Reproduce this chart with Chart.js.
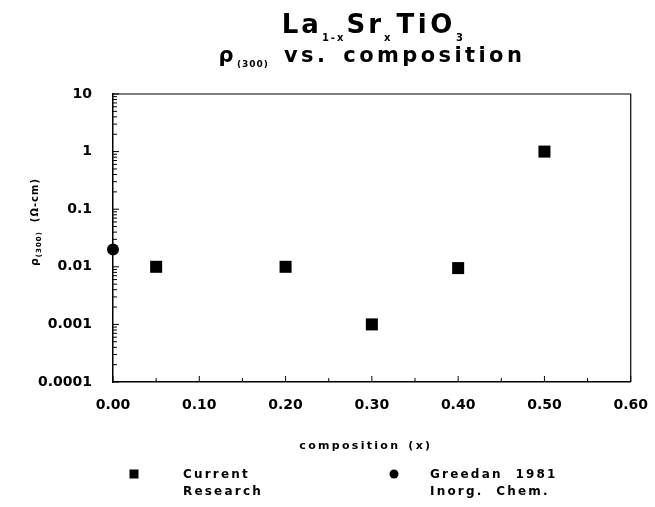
<!DOCTYPE html>
<html>
<head>
<meta charset="utf-8">
<script src="https://cdn.jsdelivr.net/npm/chart.js@4.4.0/dist/chart.umd.min.js"></script>
<style>
  html, body { margin: 0; padding: 0; background: #fff; }
  canvas { display: block; }
</style>
</head>
<body>
<canvas id="myChart" width="655" height="507"></canvas>
<script>
// data
const currentX = [0.05, 0.20, 0.30, 0.40, 0.50]
const currentY = [0.01, 0.01, 0.001, 0.0095, 1]
const greedanX = [0.00]
const greedanY = [0.02]

const xTicks = [0, 0.1, 0.2, 0.3, 0.4, 0.5, 0.6]
const xTickLabels = ['0.00', '0.10', '0.20', '0.30', '0.40', '0.50', '0.60']
const xMinorTicks = [0.05, 0.15, 0.25, 0.35, 0.45, 0.55]
const yTicks = [0.0001, 0.001, 0.01, 0.1, 1, 10]
const yTickLabels = ['0.0001', '0.001', '0.01', '0.1', '1', '10']
const yMinorSteps = [2, 3, 4, 5, 6, 7, 8, 9]

const FONT = '"DejaVu Sans", sans-serif'

// draws a line of text made of pieces (for the subscripts), centred on cx
function drawRich(ctx, segs, cx, base, spacing) {
    let w = 0
    segs.forEach(s => {
        ctx.font = 'bold ' + s.size + 'px ' + FONT
        ctx.letterSpacing = (s.sp !== undefined ? s.sp : spacing) + 'px'
        s.w = ctx.measureText(s.t).width
        w += s.w + (s.gap || 0)
    })
    let x = cx - w / 2
    ctx.textAlign = 'left'
    ctx.textBaseline = 'alphabetic'
    segs.forEach(s => {
        ctx.font = 'bold ' + s.size + 'px ' + FONT
        ctx.letterSpacing = (s.sp !== undefined ? s.sp : spacing) + 'px'
        ctx.fillText(s.t, x, base + (s.dy || 0))
        x += s.w + (s.gap || 0)
    })
    ctx.letterSpacing = '0px'
}

const decorPlugin = {
    id: 'decor',
    afterDraw(chart) {
        const ctx = chart.ctx
        const area = chart.chartArea
        const xs = chart.scales.x
        const ys = chart.scales.y
        ctx.save()
        ctx.fillStyle = '#000'
        ctx.strokeStyle = '#000'

        // top and right frame
        ctx.lineWidth = 1.2
        ctx.beginPath()
        ctx.moveTo(area.left, area.top)
        ctx.lineTo(area.right, area.top)
        ctx.lineTo(area.right, area.bottom)
        ctx.stroke()

        // inward tick marks
        ctx.lineWidth = 1
        ctx.beginPath()
        xTicks.forEach(v => {
            const px = xs.getPixelForValue(v)
            ctx.moveTo(px, area.bottom)
            ctx.lineTo(px, area.bottom - 6)
        })
        xMinorTicks.forEach(v => {
            const px = xs.getPixelForValue(v)
            ctx.moveTo(px, area.bottom)
            ctx.lineTo(px, area.bottom - 4)
        })
        yTicks.forEach((v, i) => {
            const py = ys.getPixelForValue(v)
            ctx.moveTo(area.left, py)
            ctx.lineTo(area.left + 6, py)
            if (i < yTicks.length - 1) {
                yMinorSteps.forEach(m => {
                    const pm = ys.getPixelForValue(v * m)
                    ctx.moveTo(area.left, pm)
                    ctx.lineTo(area.left + 4, pm)
                })
            }
        })
        ctx.stroke()

        // title
        const cx = (area.left + area.right) / 2
        drawRich(ctx, [
            { t: 'La', size: 26 },
            { t: '1-x', size: 10, dy: 8, gap: 1, sp: 2 },
            { t: 'Sr', size: 26 },
            { t: 'x', size: 10, dy: 8, gap: 3 },
            { t: 'TiO', size: 26, sp: 3.6 },
            { t: '3', size: 10, dy: 8 }
        ], cx + 2, 33, 3)
        drawRich(ctx, [
            { t: 'ρ', size: 21 },
            { t: '(300)', size: 9, dy: 5, gap: 15, sp: 1 },
            { t: 'vs.', size: 21, gap: 15 },
            { t: 'composition', size: 21 }
        ], cx, 62, 3.4)

        // axis titles
        drawRich(ctx, [
            { t: 'composition', size: 11, gap: 8 },
            { t: '(x)', size: 11 }
        ], cx - 6, 449, 2.3)

        ctx.save()
        ctx.translate(38, 222)
        ctx.rotate(-Math.PI / 2)
        drawRich(ctx, [
            { t: 'ρ', size: 11 },
            { t: '(300)', size: 7, dy: 3, gap: 9 },
            { t: '(Ω-cm)', size: 10 }
        ], 0, 0, 1)
        ctx.restore()

        // legend
        ctx.fillRect(129.5, 469.5, 9, 9)
        ctx.beginPath()
        ctx.arc(394, 474, 4.5, 0, Math.PI * 2)
        ctx.fill()
        ctx.letterSpacing = '2.2px'
        ctx.font = 'bold 12px ' + FONT
        ctx.textAlign = 'left'
        ctx.fillText('Current', 183, 478)
        ctx.fillText('Research', 183, 495)
        ctx.fillText('Greedan  1981', 430, 478)
        ctx.fillText('Inorg.  Chem.', 430, 495)
        ctx.letterSpacing = '0px'
        ctx.restore()
    }
}

const ctx = document.getElementById('myChart')
const myChart = new Chart(ctx, {
    type: 'scatter',
    data: {
        datasets: [{
            label: 'Current Research',
            data: currentX.map((x, i) => ({ x: x, y: currentY[i] })),
            pointStyle: 'rect',
            pointRadius: 8.5,
            backgroundColor: '#000',
            borderColor: '#000',
            borderWidth: 0,
            clip: false
        },
        {
            label: 'Greedan 1981 Inorg. Chem.',
            data: greedanX.map((x, i) => ({ x: x, y: greedanY[i] })),
            pointStyle: 'circle',
            pointRadius: 6,
            backgroundColor: '#000',
            borderColor: '#000',
            borderWidth: 0,
            clip: false
        }]
    },
    options: {
        responsive: false,
        animation: false,
        layout: { padding: { top: 94, right: 20, left: 0, bottom: 0 } },
        plugins: {
            legend: { display: false },
            title: { display: false },
            tooltip: { enabled: false }
        },
        scales: {
            x: {
                type: 'linear',
                min: 0,
                max: 0.6,
                grid: { display: false },
                border: { color: '#000', width: 1.5 },
                afterBuildTicks: s => { s.ticks = xTicks.map(v => ({ value: v })) },
                ticks: {
                    callback: (v, i) => xTickLabels[i],
                    font: { family: FONT, size: 14, weight: 'bold' },
                    color: '#000',
                    padding: 7,
                    maxRotation: 0,
                    autoSkip: false
                },
                afterFit: s => { s.height = 125 }
            },
            y: {
                type: 'logarithmic',
                min: 0.0001,
                max: 10,
                grid: { display: false },
                border: { color: '#000', width: 1.5 },
                afterBuildTicks: s => { s.ticks = yTicks.map(v => ({ value: v })) },
                ticks: {
                    callback: (v, i) => yTickLabels[i],
                    font: { family: FONT, size: 14, weight: 'bold' },
                    color: '#000',
                    padding: 13,
                    autoSkip: false
                },
                afterFit: s => { s.width = 113 }
            }
        }
    },
    plugins: [decorPlugin]
});
</script>
</body>
</html>
